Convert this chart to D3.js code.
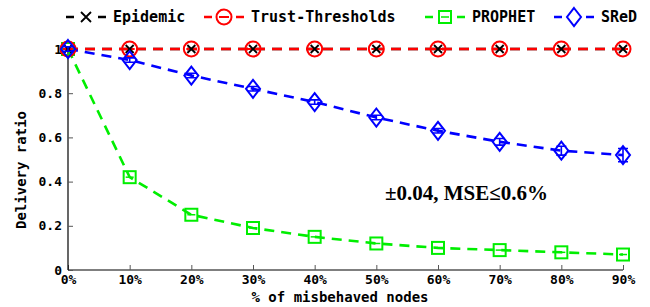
<!DOCTYPE html>
<html>
<head>
<meta charset="utf-8">
<script src="https://cdn.jsdelivr.net/npm/d3@7"></script>
<style>
  body { margin: 0; background: #fff; }
  text { font-family: "DejaVu Sans Mono", "Liberation Mono", monospace; font-weight: bold; }
</style>
</head>
<body>
<script>
// categories on the x axis (% of misbehaved nodes)
var misbehaved = [0, 10, 20, 30, 40, 50, 60, 70, 80, 90];
var xTickLabels = ['0%', '10%', '20%', '30%', '40%', '50%', '60%', '70%', '80%', '90%'];
var yTickValues = [0, 0.2, 0.4, 0.6, 0.8, 1];
var yTickLabels = ['0', '0.2', '0.4', '0.6', '0.8', '1'];

// delivery ratio per protocol
var epidemic = [1, 1, 1, 1, 1, 1, 1, 1, 1, 1];
var trustThresholds = [1, 1, 1, 1, 1, 1, 1, 1, 1, 1];
var prophet = [1, 0.42, 0.25, 0.19, 0.15, 0.12, 0.10, 0.09, 0.08, 0.07];
var sred = [1, 0.95, 0.88, 0.82, 0.76, 0.69, 0.63, 0.58, 0.54, 0.52];
var sredErr = [0.01, 0.01, 0.01, 0.01, 0.01, 0.01, 0.01, 0.015, 0.02, 0.03];

var seriesNames = ['Epidemic', 'Trust-Thresholds', 'PROPHET', 'SReD'];

var width = 650, height = 307;
var svg = d3.select('body').append('svg').attr('width', width).attr('height', height);

var x = d3.scaleLinear().domain([0, 90]).range([68, 623]);
var y = d3.scaleLinear().domain([0, 1]).range([270, 49]);

// axes (left and bottom only, ticks pointing in)
var xAxis = svg.append('g').attr('transform', 'translate(0,270)')
  .call(d3.axisBottom(x).tickValues(misbehaved).tickSize(-5).tickPadding(5)
    .tickFormat(function (d, i) { return xTickLabels[i]; }));
var yAxis = svg.append('g').attr('transform', 'translate(68,0)')
  .call(d3.axisLeft(y).tickValues(yTickValues).tickSize(-5).tickPadding(10)
    .tickFormat(function (d, i) { return yTickLabels[i]; }));
[xAxis, yAxis].forEach(function (a) {
  a.select('.domain').attr('stroke', '#000').attr('stroke-width', 1.2);
  a.selectAll('.tick line').attr('stroke', '#555');
  a.selectAll('text').attr('font-size', 13).attr('fill', '#000')
    .style('font-family', '"DejaVu Sans Mono", monospace').style('font-weight', 'bold');
});
yAxis.selectAll('.tick text').attr('dx', 4);
xAxis.select('.domain').attr('d', 'M68,0H623');
yAxis.select('.domain').attr('d', 'M0,49V270');

svg.append('text').attr('x', 340).attr('y', 302).attr('text-anchor', 'middle')
  .attr('font-size', 14).text('% of misbehaved nodes');
svg.append('text').attr('transform', 'translate(26,170) rotate(-90)')
  .attr('text-anchor', 'middle').attr('font-size', 14).text('Delivery ratio');

svg.append('text').attr('x', 385).attr('y', 200)
  .style('font-family', '"Liberation Serif", "Times New Roman", serif')
  .attr('font-size', 21).text('\u00b10.04, MSE\u22640.6%');

var line = d3.line().x(function (d, i) { return x(misbehaved[i]); }).y(function (d) { return y(d); });

function dashed(data, color) {
  svg.append('path').datum(data).attr('d', line).attr('fill', 'none')
    .attr('stroke', color).attr('stroke-width', 2.6).attr('stroke-dasharray', '10,7');
}

function cross(g, cx, cy, s) {
  g.append('path').attr('d', 'M' + (cx - s) + ',' + (cy - s) + 'L' + (cx + s) + ',' + (cy + s) +
    'M' + (cx - s) + ',' + (cy + s) + 'L' + (cx + s) + ',' + (cy - s))
    .attr('stroke', '#000').attr('stroke-width', 1.8);
}
function circle(g, cx, cy) {
  g.append('circle').attr('cx', cx).attr('cy', cy).attr('r', 7.5).attr('fill', 'none')
    .attr('stroke', '#ff0000').attr('stroke-width', 2);
  g.append('line').attr('x1', cx - 5).attr('x2', cx + 5).attr('y1', cy).attr('y2', cy)
    .attr('stroke', '#ff0000').attr('stroke-width', 2);
}
function square(g, cx, cy) {
  g.append('rect').attr('x', cx - 6).attr('y', cy - 6).attr('width', 12).attr('height', 12)
    .attr('fill', 'none').attr('stroke', '#00ee00').attr('stroke-width', 2);
  g.append('line').attr('x1', cx - 4).attr('x2', cx + 4).attr('y1', cy).attr('y2', cy)
    .attr('stroke', '#00ee00').attr('stroke-width', 1.5);
}
function diamond(g, cx, cy) {
  g.append('path').attr('d', 'M' + cx + ',' + (cy - 9) + 'L' + (cx + 7) + ',' + cy + 'L' + cx + ',' + (cy + 9) +
    'L' + (cx - 7) + ',' + cy + 'Z').attr('fill', 'none').attr('stroke', '#0000ff').attr('stroke-width', 2);
}

dashed(epidemic, '#000');
dashed(trustThresholds, '#ff0000');
dashed(prophet, '#00ee00');
dashed(sred, '#0000ff');

var marks = svg.append('g');
prophet.forEach(function (d, i) { square(marks, x(misbehaved[i]), y(d)); });
trustThresholds.forEach(function (d, i) { circle(marks, x(misbehaved[i]), y(d)); });
epidemic.forEach(function (d, i) { cross(marks, x(misbehaved[i]), y(d), 4); });
sred.forEach(function (d, i) {
  var cx = x(misbehaved[i]);
  var lo = y(d - sredErr[i]), hi = y(d + sredErr[i]);
  marks.append('path').attr('d', 'M' + cx + ',' + lo + 'V' + hi +
      'M' + (cx - 5) + ',' + lo + 'H' + (cx + 5) + 'M' + (cx - 5) + ',' + hi + 'H' + (cx + 5))
    .attr('stroke', '#0000ff').attr('stroke-width', 1.6).attr('fill', 'none');
  diamond(marks, cx, y(d));
});

// legend
var legendX = [66, 204, 425, 554];
var legendColors = ['#000', '#ff0000', '#00ee00', '#0000ff'];
var legendMarkers = [
  function (g, cx, cy) { cross(g, cx, cy, 5); },
  circle, square, diamond
];
var legend = svg.append('g');
seriesNames.forEach(function (name, i) {
  var lx = legendX[i], ly = 17;
  legend.append('line').attr('x1', lx).attr('x2', lx + 40).attr('y1', ly).attr('y2', ly)
    .attr('stroke', legendColors[i]).attr('stroke-width', 2.6).attr('stroke-dasharray', '8,24');
  legendMarkers[i](legend, lx + 20, ly);
  legend.append('text').attr('x', lx + 47).attr('y', ly + 5).attr('font-size', 15).text(name);
});
</script>
</body>
</html>
